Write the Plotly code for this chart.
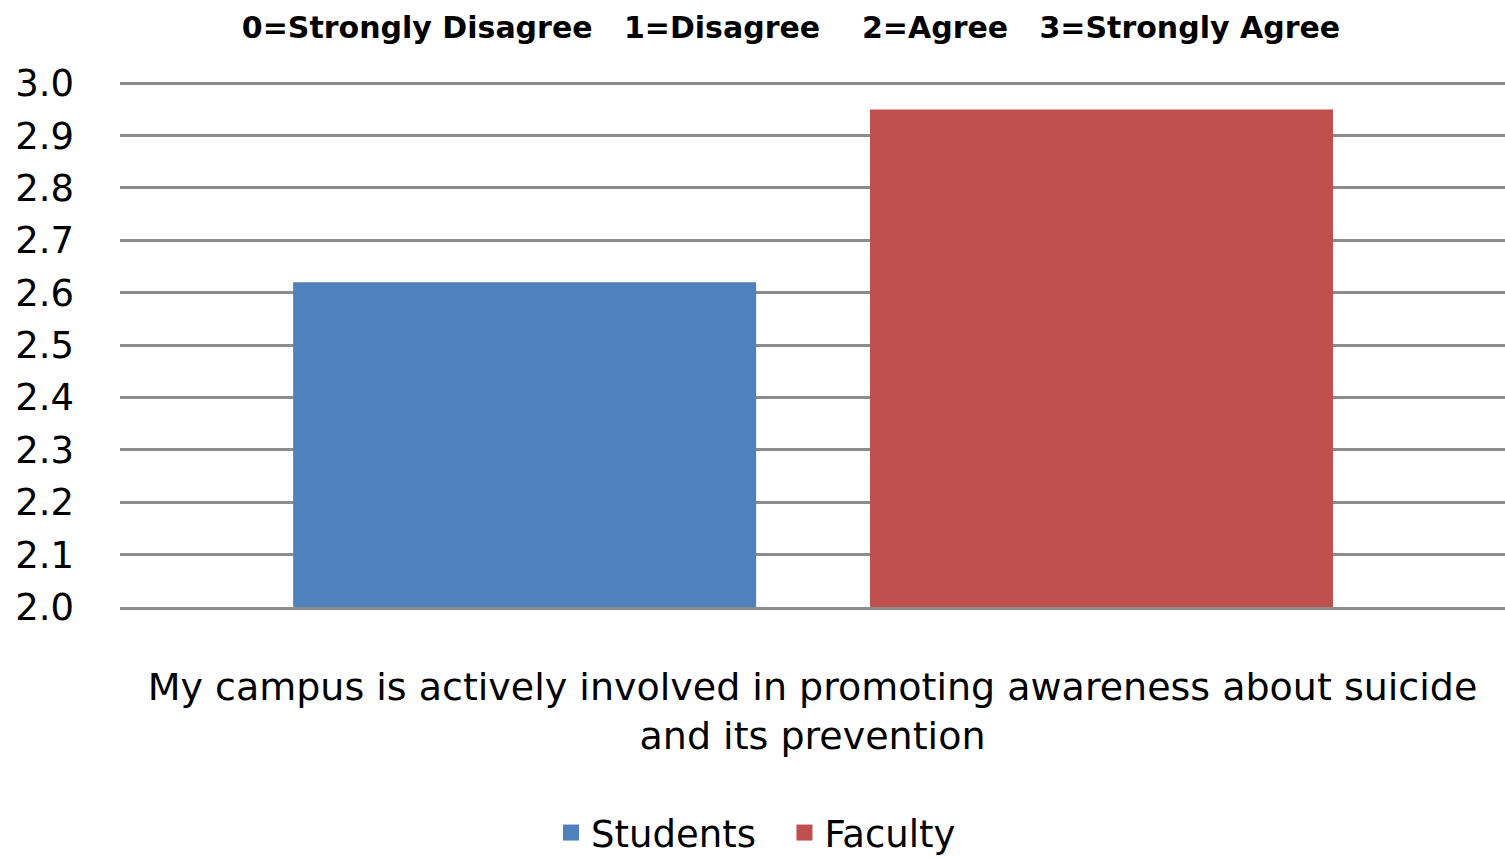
import plotly.graph_objects as go

categories = ["My campus is actively involved in promoting awareness about suicide<br>and its prevention"]
series_names = ["Students", "Faculty"]
students = [2.62]
faculty = [2.95]
colors = ["#4F81BD", "#C0504D"]
title_parts = ["0=Strongly Disagree", "1=Disagree", "2=Agree", "3=Strongly Agree"]

FONT = "'DejaVu Sans', sans-serif"
NB = "&nbsp;"
title_text = title_parts[0] + NB * 3 + title_parts[1] + NB * 4 + title_parts[2] + NB * 3 + title_parts[3]

fig = go.Figure()
for name, vals, col, off in [(series_names[0], students, colors[0], -0.375),
                             (series_names[1], faculty, colors[1], 0.0415)]:
    fig.add_trace(go.Bar(
        x=categories, y=[v - 2.0 for v in vals], base=2.0, name=name,
        marker=dict(color=col, line=dict(width=0)),
        width=0.3343, offset=off, showlegend=False,
    ))
# legend entries with square swatches
for i, (name, col) in enumerate(zip(series_names, colors)):
    label = name + (NB * 2 if i < len(series_names) - 1 else "")
    fig.add_trace(go.Scatter(
        x=[None], y=[None], mode="markers", name=label,
        marker=dict(symbol="square", size=28, color=col),
    ))

fig.update_layout(
    width=1505, height=858,
    barmode="overlay",
    paper_bgcolor="white", plot_bgcolor="white",
    margin=dict(l=120, r=0, t=78, b=251, autoexpand=False),
    title=dict(text="<b>" + title_text + "</b>",
               x=791 / 1505, xanchor="center", xref="container",
               y=1 - 27 / 858, yanchor="middle", yref="container",
               font=dict(family=FONT, size=30, color="black")),
    font=dict(family=FONT, color="black"),
    legend=dict(orientation="h", x=756 / 1505, xanchor="center", xref="container",
                y=1 - 833 / 858, yanchor="middle", yref="container",
                font=dict(size=37, family=FONT, color="black"),
                traceorder="normal", itemwidth=30),
    showlegend=True,
)
fig.update_yaxes(range=[2.0, 3.01], dtick=0.1, tick0=2.0, tickformat=".1f",
                 showgrid=True, gridcolor="#8C8C8C", gridwidth=3,
                 zeroline=False, showline=False, ticks="", automargin=False,
                 tickfont=dict(size=37, family=FONT, color="black"),
                 ticklabelstandoff=45)
fig.update_xaxes(range=[-0.5, 0.5], showline=True, linecolor="#8C8C8C", linewidth=3,
                 ticks="", automargin=False,
                 tickfont=dict(size=38, family=FONT, color="black"),
                 ticklabelstandoff=44)

fig.write_html("out.html", config={"displayModeBar": False},
               post_script="document.body.style.margin='0px';")
